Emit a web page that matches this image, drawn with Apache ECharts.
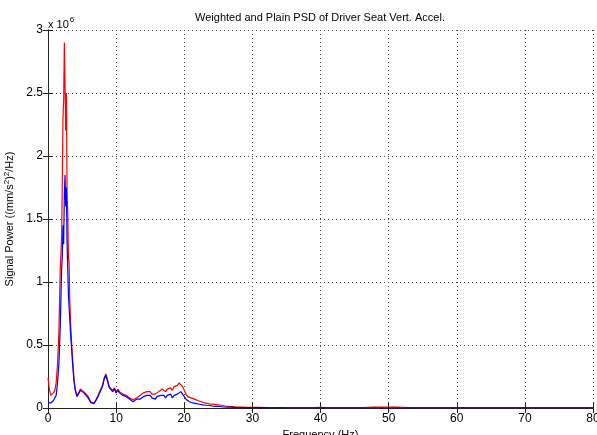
<!DOCTYPE html>
<html>
<head>
<meta charset="utf-8">
<script src="https://cdn.jsdelivr.net/npm/echarts@6/dist/echarts.min.js"></script>
<style>
  html, body { margin: 0; padding: 0; background: #fff; }
  #chart { width: 597px; height: 435px; }
</style>
</head>
<body>
<div id="chart"></div>
<script>
// frequency samples (Hz)
const freqs = [
  0, 0.2, 0.4, 0.6, 0.8, 1.0, 1.2, 1.4, 1.6, 1.8,
  2.0, 2.1, 2.2, 2.3, 2.4, 2.5, 2.6, 2.7, 2.8, 2.9, 3.0, 3.1, 3.2, 3.3, 3.4,
  3.6, 3.8,
  4, 4.25, 4.5, 4.75, 5, 5.25, 5.5, 5.75, 6, 6.25, 6.5, 6.75,
  7, 7.25, 7.5, 7.75, 8, 8.25, 8.5, 8.75, 9, 9.25, 9.5, 9.75,
  10, 10.25, 10.5, 10.75, 11, 11.25, 11.5, 11.75, 12, 12.25, 12.5, 12.75,
  13, 13.25, 13.5, 13.75, 14, 14.25, 14.5, 14.75, 15, 15.25, 15.5, 15.75,
  16, 16.25, 16.5, 16.75, 17, 17.25, 17.5, 17.75, 18, 18.25, 18.5, 18.75,
  19, 19.25, 19.5, 19.75, 20, 20.25, 20.5, 20.75, 21, 21.25, 21.5, 21.75,
  22, 22.25, 22.5, 22.75, 23, 23.25, 23.5, 23.75, 24, 24.25, 24.5, 24.75,
  25, 25.25, 25.5, 25.75, 26, 26.25, 26.5, 26.75, 27, 27.25, 27.5, 27.75,
  28, 28.25, 28.5, 28.75, 29, 29.25, 29.5, 29.75, 30,
  31, 32, 33, 34, 35, 36, 37, 38, 39, 40,
  41, 42, 43, 44, 45, 46, 47, 48, 49, 50,
  51, 52, 53, 54, 55, 56, 57, 58, 59, 60,
  61, 62, 63, 64, 65, 66, 67, 68, 69, 70,
  71, 72, 73, 74, 75, 76, 77, 78, 79, 80
];

// plain PSD (x 10^6)
const redPsd = [
  0.24, 0.15, 0.1, 0.09, 0.12, 0.14, 0.2, 0.35, 0.6, 1.1,
  1.35, 1.8, 2.3, 2.45, 2.9, 2.55, 2.2, 2.5, 1.7, 1.55, 1.2, 1.15, 0.85, 0.7, 0.58,
  0.4, 0.24,
  0.15, 0.1, 0.12, 0.15, 0.16, 0.13, 0.14, 0.1, 0.08, 0.05, 0.035, 0.04,
  0.06, 0.09, 0.12, 0.15, 0.18, 0.24, 0.27, 0.22, 0.17, 0.16, 0.14, 0.16,
  0.13, 0.15, 0.13, 0.14, 0.11, 0.12, 0.1, 0.09, 0.08, 0.07, 0.065, 0.075,
  0.08, 0.09, 0.1, 0.11, 0.12, 0.11, 0.13, 0.12, 0.13, 0.11, 0.12, 0.11,
  0.12, 0.13, 0.14, 0.15, 0.16, 0.13, 0.15, 0.14, 0.16, 0.14, 0.17, 0.18,
  0.18, 0.2, 0.19, 0.17, 0.14, 0.11, 0.09, 0.085, 0.08, 0.075, 0.07, 0.065,
  0.06, 0.055, 0.05, 0.045, 0.04, 0.042, 0.035, 0.038, 0.03, 0.032, 0.028, 0.03,
  0.025, 0.032, 0.022, 0.018, 0.016, 0.014, 0.013, 0.012, 0.011, 0.01, 0.009, 0.009,
  0.008, 0.008, 0.007, 0.007, 0.006, 0.006, 0.006, 0.005, 0.005,
  0.005, 0.004, 0.004, 0.004, 0.004, 0.003, 0.004, 0.003, 0.004, 0.006,
  0.003, 0.003, 0.003, 0.003, 0.003, 0.004, 0.006, 0.007, 0.008, 0.008,
  0.007, 0.006, 0.004, 0.003, 0.003, 0.003, 0.003, 0.003, 0.003, 0.003,
  0.003, 0.003, 0.003, 0.003, 0.003, 0.003, 0.003, 0.003, 0.003, 0.003,
  0.003, 0.003, 0.003, 0.003, 0.003, 0.003, 0.003, 0.003, 0.003, 0.003
];

// weighted PSD (x 10^6)
const bluePsd = [
  0.04, 0.05, 0.04, 0.05, 0.06, 0.07, 0.1, 0.2, 0.35, 0.65,
  1.1, 1.2, 1.45, 1.3, 1.7, 1.85, 1.6, 1.75, 1.3, 1.1, 0.9, 0.8, 0.7, 0.6, 0.52,
  0.36, 0.22,
  0.14, 0.09, 0.1, 0.14, 0.15, 0.12, 0.13, 0.09, 0.07, 0.045, 0.03, 0.035,
  0.05, 0.08, 0.11, 0.14, 0.17, 0.23, 0.26, 0.21, 0.16, 0.15, 0.13, 0.15,
  0.12, 0.14, 0.12, 0.13, 0.1, 0.11, 0.09, 0.08, 0.07, 0.055, 0.05, 0.06,
  0.07, 0.075, 0.07, 0.08, 0.09, 0.08, 0.1, 0.09, 0.1, 0.08, 0.09, 0.07,
  0.09, 0.08, 0.1, 0.09, 0.1, 0.08, 0.1, 0.09, 0.11, 0.08, 0.1, 0.11,
  0.11, 0.12, 0.13, 0.11, 0.09, 0.07, 0.055, 0.05, 0.045, 0.04, 0.038, 0.035,
  0.03, 0.03, 0.025, 0.025, 0.02, 0.022, 0.018, 0.02, 0.015, 0.014, 0.012, 0.013,
  0.01, 0.012, 0.009, 0.008, 0.008, 0.007, 0.006, 0.007, 0.005, 0.005, 0.004, 0.004,
  0.004, 0.003, 0.003, 0.003, 0.003, 0.003, 0.003, 0.003, 0.003,
  0.003, 0.003, 0.002, 0.003, 0.002, 0.002, 0.002, 0.002, 0.002, 0.002,
  0.002, 0.002, 0.002, 0.002, 0.002, 0.002, 0.002, 0.002, 0.002, 0.002,
  0.002, 0.002, 0.002, 0.002, 0.002, 0.002, 0.002, 0.002, 0.002, 0.002,
  0.002, 0.002, 0.002, 0.002, 0.002, 0.002, 0.002, 0.002, 0.002, 0.002,
  0.002, 0.002, 0.002, 0.002, 0.002, 0.002, 0.002, 0.002, 0.002, 0.002
];

const xTicks = { min: 0, max: 80, interval: 10 };
const yTicks = { min: 0, max: 3, interval: 0.5 };

const chart = echarts.init(document.getElementById('chart'));
const font = '"Liberation Sans", Arial, sans-serif';
const boxLine = { show: true, lineStyle: { color: '#222', width: 1 } };
const inTick = { show: true, inside: true, length: 5, lineStyle: { color: '#222' } };
const dotted = { show: true, lineStyle: { color: '#444', type: [1, 3], width: 1 } };

chart.setOption({
  animation: false,
  backgroundColor: '#fff',
  grid: { left: 48, right: 4, top: 30, bottom: 27, containLabel: false, outerBoundsMode: 'none' },
  graphic: [
    {
      type: 'text', x: 320, y: 18,
      style: {
        text: 'Weighted and Plain PSD of Driver Seat Vert. Accel.',
        font: '11px ' + font, fill: '#000', align: 'center', verticalAlign: 'middle'
      }
    },
    {
      type: 'text', x: 48, y: 13,
      style: {
        text: '{b|x 10}{s|6}',
        rich: {
          b: { fontSize: 11, fontFamily: font, fill: '#000', padding: [6, 0, 0, 0] },
          s: { fontSize: 8, fontFamily: font, fill: '#000', padding: [0, 0, 4, 1] }
        }
      }
    }
  ],
  xAxis: [
    {
      type: 'value', ...xTicks,
      name: 'Frequency (Hz)', nameLocation: 'middle', nameGap: 19,
      nameTextStyle: { fontSize: 11, fontFamily: font, color: '#000' },
      axisLine: boxLine, axisTick: inTick, splitLine: dotted,
      axisLabel: { fontSize: 12, fontFamily: font, color: '#000', margin: 5 }
    },
    {
      type: 'value', position: 'top', ...xTicks,
      axisLine: boxLine, axisTick: inTick, splitLine: { show: false },
      axisLabel: { show: false }
    }
  ],
  yAxis: [
    {
      type: 'value', ...yTicks,
      name: '{t|Signal Power ((mm/s}{s|2}{t|)}{s|2}{t|/Hz)}',
      nameLocation: 'middle', nameGap: 25, nameRotate: 90,
      nameTextStyle: {
        rich: {
          t: { fontSize: 11, fontFamily: font, color: '#000' },
          s: { fontSize: 8, fontFamily: font, color: '#000', verticalAlign: 'top', padding: [0, 0, 6, 0] }
        }
      },
      axisLine: boxLine, axisTick: inTick, splitLine: dotted,
      axisLabel: { fontSize: 12, fontFamily: font, color: '#000', margin: 5 }
    },
    {
      type: 'value', position: 'right', ...yTicks,
      axisLine: boxLine, axisTick: inTick, splitLine: { show: false },
      axisLabel: { show: false }
    }
  ],
  series: [
    {
      name: 'Plain', type: 'line', showSymbol: false, smooth: false,
      data: freqs.map((f, i) => [f, redPsd[i]]),
      lineStyle: { color: '#ff0000', width: 1.2 }, z: 2
    },
    {
      name: 'Weighted', type: 'line', showSymbol: false, smooth: false,
      data: freqs.map((f, i) => [f, bluePsd[i]]),
      lineStyle: { color: '#0000ff', width: 1.2 }, z: 3
    }
  ]
});
</script>
</body>
</html>
